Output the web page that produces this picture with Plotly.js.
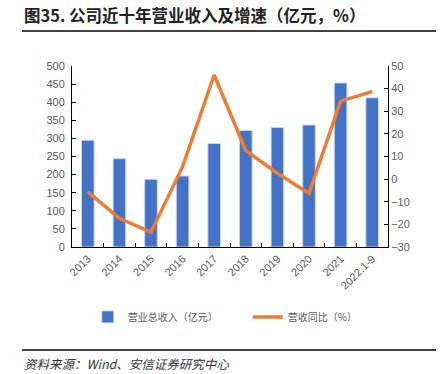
<!DOCTYPE html>
<html>
<head>
<meta charset="utf-8">
<script src="https://cdn.plot.ly/plotly-3.0.1.min.js"></script>
<style>html,body{margin:0;padding:0;background:#fff;}#chart{width:445px;height:374px;}</style>
</head>
<body>
<div id="chart"></div>
<script>
const categories = ["2013","2014","2015","2016","2017","2018","2019","2020","2021","2022.1-9"];
const revenue = [295, 244, 187, 196, 286, 322, 330, 337, 453, 412];
const growth = [-5.6, -17.3, -23.5, 5.5, 46, 12.6, 2.6, -6.3, 34.5, 38.7];
const revenueName = "营业总收入（亿元）";
const growthName = "营收同比（%）";
const leftTicks = [0,50,100,150,200,250,300,350,400,450,500];
const rightTicks = [-30,-20,-10,0,10,20,30,40,50];

const cjk = '"Liberation Sans", "Noto Sans CJK SC", Arial, sans-serif';
const tickFont = {family: cjk, size: 11, color: "#595959"};

const traces = [
  {type: "bar", x: categories, y: revenue, name: revenueName,
   marker: {color: "#4472C4", line: {color: "#C9D6EE", width: 1}}, yaxis: "y"},
  {type: "scatter", mode: "lines", x: categories, y: growth, name: growthName,
   line: {color: "#ED7D31", width: 3.5}, yaxis: "y2"}
];

const layout = {
  width: 445, height: 374,
  margin: {l: 72, r: 57, t: 66, b: 127},
  paper_bgcolor: "#fff", plot_bgcolor: "#fff",
  bargap: 0.6,
  showlegend: true,
  legend: {orientation: "h", x: 0.05, y: -0.306, xanchor: "left", yanchor: "top",
           bgcolor: "rgba(0,0,0,0)",
           font: {family: '"Noto Sans CJK SC", sans-serif', size: 10, color: "#595959"},
           entrywidth: 115, entrywidthmode: "pixels", traceorder: "normal"},
  xaxis: {type: "category", tickangle: -45, tickfont: tickFont,
          showline: true, linecolor: "#000", linewidth: 1, ticks: "inside",
          tickson: "boundaries", ticklen: 4, tickcolor: "#000", showgrid: false,
          range: [-0.5, 9.5]},
  yaxis: {range: [0, 500], tickvals: leftTicks, tickfont: tickFont,
          showline: true, linecolor: "#000", linewidth: 1, ticks: "inside",
          ticklen: 4, tickcolor: "#000", showgrid: false, zeroline: false, ticklabelstandoff: 4},
  yaxis2: {range: [-30, 50], tickvals: rightTicks, tickfont: tickFont, overlaying: "y",
           side: "right", showline: true, linecolor: "#000", linewidth: 1, ticks: "inside",
           ticklen: 4, tickcolor: "#000", showgrid: false, zeroline: false},
  shapes: [
    {type: "line", xref: "paper", yref: "paper", x0: -0.158, x1: 1.152, y0: 1.193, y1: 1.193,
     line: {color: "#000", width: 1.5}},
    {type: "line", xref: "paper", yref: "paper", x0: -0.158, x1: 1.152, y0: -0.569, y1: -0.569,
     line: {color: "#000", width: 1.5}}
  ],
  annotations: [
    {xref: "paper", yref: "paper", x: -0.158, y: 1.203, xanchor: "left", yanchor: "bottom",
     text: "<b>图35. 公司近十年营业收入及增速（亿元，%）</b>", showarrow: false,
     font: {family: '"Noto Sans CJK SC", sans-serif', size: 16.5, color: "#222"}},
    {xref: "paper", yref: "paper", x: -0.158, y: -0.58, xanchor: "left", yanchor: "top",
     text: "<i>资料来源：Wind、安信证券研究中心</i>", showarrow: false,
     font: {family: '"Noto Sans CJK SC", sans-serif', size: 12.5, color: "#333"}}
  ]
};

Plotly.newPlot("chart", traces, layout, {staticPlot: true, displayModeBar: false});
</script>
</body>
</html>
